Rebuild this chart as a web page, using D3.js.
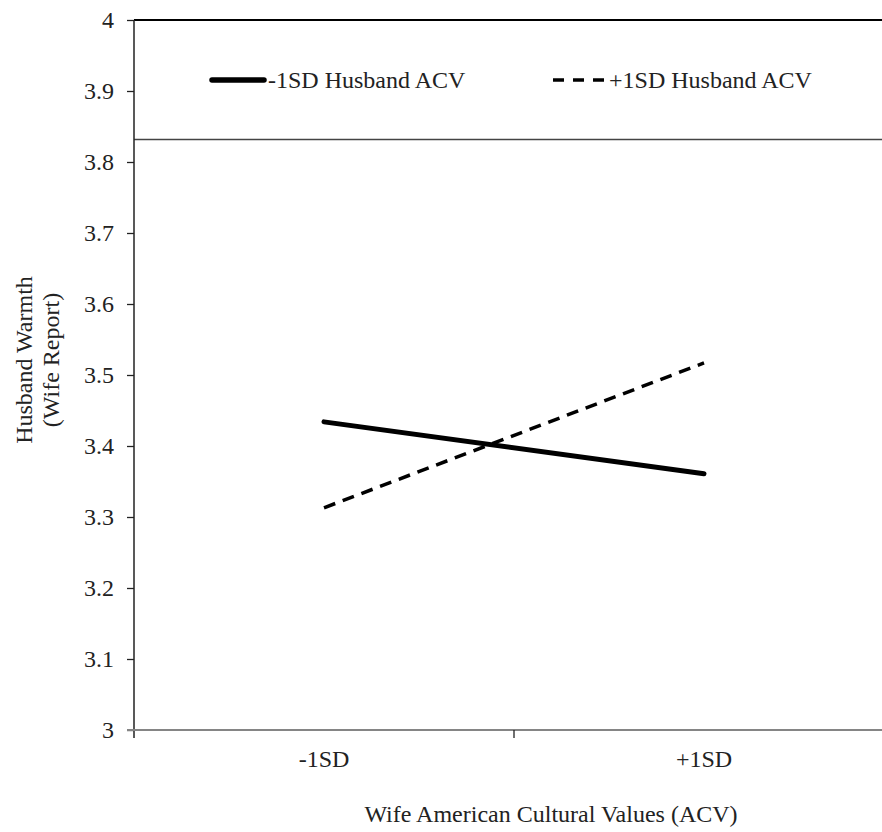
<!DOCTYPE html>
<html>
<head>
<meta charset="utf-8">
<script src="https://cdn.jsdelivr.net/npm/d3@7"></script>
<style>
  body { margin: 0; background: #fff; }
  svg { display: block; }
  text { font-family: "Liberation Serif", "Times New Roman", serif; }
</style>
</head>
<body>
<svg width="882" height="832"></svg>
<script>
(function (d3) {
  "use strict";

  // values
  const categories = ["-1SD", "+1SD"];
  const seriesNames = ["-1SD Husband ACV", "+1SD Husband ACV"];
  const lowHusband = [3.434, 3.361];
  const highHusband = [3.313, 3.517];
  const yTicks = [3, 3.1, 3.2, 3.3, 3.4, 3.5, 3.6, 3.7, 3.8, 3.9, 4];
  const yTickLabels = ["3", "3.1", "3.2", "3.3", "3.4", "3.5", "3.6", "3.7", "3.8", "3.9", "4"];

  const fontFamily = "'Liberation Serif', 'Times New Roman', serif";
  const textColor = "#222";

  const svg = d3.select("svg");

  const margin = { top: 20, left: 134, bottom: 102 };
  const plotWidth = 760; // plot runs past the right edge of the picture
  const innerHeight = 832 - margin.top - margin.bottom;

  const xScale = d3.scaleBand().domain(categories).range([0, plotWidth]).padding(0);
  const xCenter = (c) => xScale(c) + xScale.bandwidth() / 2;

  const yScale = d3.scaleLinear().domain([3, 4]).range([innerHeight, 0]);

  const g = svg.append("g").attr("transform", `translate(${margin.left},${margin.top})`);

  // legend box (sits at the top of the plot)
  g.append("line")
    .attr("x1", 0).attr("x2", plotWidth)
    .attr("y1", yScale(4)).attr("y2", yScale(4))
    .attr("stroke", "#000").attr("stroke-width", 2);
  g.append("line")
    .attr("x1", 0).attr("x2", plotWidth)
    .attr("y1", 119.5).attr("y2", 119.5)
    .attr("stroke", "#444").attr("stroke-width", 1.5);

  // y axis
  const yAxis = d3.axisLeft(yScale)
    .tickValues(yTicks)
    .tickFormat((d, i) => yTickLabels[i])
    .tickSize(7)
    .tickPadding(13);
  const yAxisG = g.append("g").call(yAxis)
    .attr("font-family", fontFamily)
    .attr("font-size", 24);
  yAxisG.select(".domain").remove();
  yAxisG.selectAll(".tick line").attr("stroke", textColor).attr("stroke-width", 1.3);
  yAxisG.selectAll(".tick text").attr("fill", textColor);
  g.append("line")
    .attr("x1", 0).attr("x2", 0)
    .attr("y1", 0).attr("y2", innerHeight + 8)
    .attr("stroke", textColor).attr("stroke-width", 1.5);

  // x axis: labels at band centres, ticks at band edges
  const xAxis = d3.axisBottom(xScale).tickSize(0).tickPadding(20);
  const xAxisG = g.append("g").attr("transform", `translate(0,${innerHeight})`).call(xAxis)
    .attr("font-family", fontFamily)
    .attr("font-size", 24);
  xAxisG.select(".domain").remove();
  xAxisG.selectAll(".tick text").attr("fill", textColor);
  g.append("line")
    .attr("x1", -7).attr("x2", plotWidth)
    .attr("y1", innerHeight).attr("y2", innerHeight)
    .attr("stroke", "#858585").attr("stroke-width", 2.2);
  g.selectAll(".band-tick")
    .data(categories.slice(1))
    .enter()
    .append("line")
    .attr("class", "band-tick")
    .attr("x1", (d) => xScale(d)).attr("x2", (d) => xScale(d))
    .attr("y1", innerHeight).attr("y2", innerHeight + 8)
    .attr("stroke", textColor).attr("stroke-width", 1.3);

  // axis titles
  svg.append("text")
    .attr("x", 551).attr("y", 822)
    .attr("text-anchor", "middle")
    .attr("font-family", fontFamily)
    .attr("font-size", 24)
    .attr("fill", textColor)
    .text("Wife American Cultural Values (ACV)");

  const yTitle = svg.append("text")
    .attr("transform", "translate(32,360) rotate(-90)")
    .attr("text-anchor", "middle")
    .attr("font-family", fontFamily)
    .attr("font-size", 24)
    .attr("fill", textColor);
  yTitle.append("tspan").attr("x", 0).attr("y", 0).text("Husband Warmth");
  yTitle.append("tspan").attr("x", 0).attr("y", 27).text("(Wife Report)");

  // lines
  const line = d3.line()
    .x((d, i) => xCenter(categories[i]))
    .y((d) => yScale(d));

  g.append("path")
    .attr("d", line(lowHusband))
    .attr("fill", "none")
    .attr("stroke", "#000")
    .attr("stroke-width", 5)
    .attr("stroke-linecap", "round");

  g.append("path")
    .attr("d", line(highHusband))
    .attr("fill", "none")
    .attr("stroke", "#000")
    .attr("stroke-width", 3.5)
    .attr("stroke-dasharray", "12,8");

  // legend entries
  const legendItems = [
    { name: seriesNames[0], x: 78, width: 5.5, dash: null, cap: "round" },
    { name: seriesNames[1], x: 419, width: 3.5, dash: "11,9", cap: "butt" }
  ];
  const legend = g.selectAll(".legend-item")
    .data(legendItems)
    .enter()
    .append("g")
    .attr("class", "legend-item")
    .attr("transform", (d) => `translate(${d.x},60)`);
  legend.append("line")
    .attr("x1", 0).attr("x2", 52)
    .attr("y1", 0).attr("y2", 0)
    .attr("stroke", "#000")
    .attr("stroke-width", (d) => d.width)
    .attr("stroke-linecap", (d) => d.cap)
    .attr("stroke-dasharray", (d) => d.dash);
  legend.append("text")
    .attr("x", 56).attr("y", 8)
    .attr("font-family", fontFamily)
    .attr("font-size", 24)
    .attr("fill", textColor)
    .text((d) => d.name);
})(d3);
</script>
</body>
</html>
